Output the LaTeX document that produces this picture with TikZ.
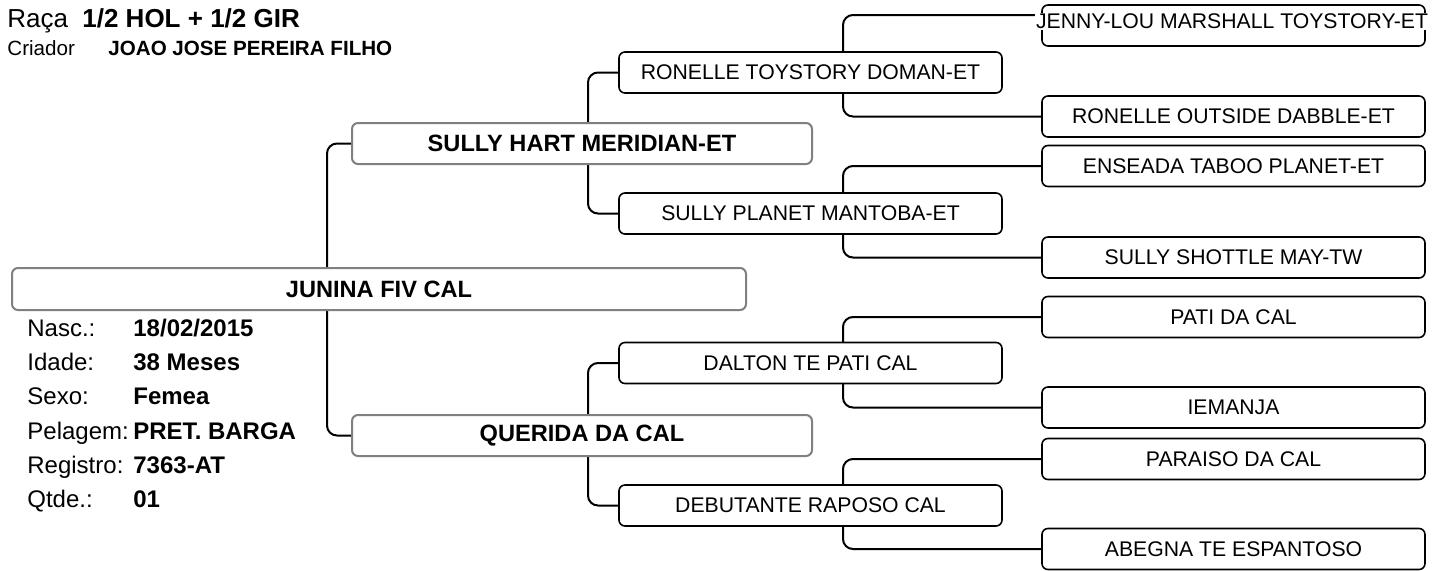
\documentclass[tikz,border=0pt]{standalone}
\usepackage{fontspec}
\setmainfont{Liberation Sans}
\usepackage{xcolor}
\usetikzlibrary{positioning,backgrounds}
\definecolor{boxgray}{RGB}{128,128,128}

\begin{document}
\begin{tikzpicture}[x=0.5pt, y=-0.5pt,
    animal/.style={draw=boxgray, line width=1pt, rounded corners=3pt, fill=white,
                   font=\fontsize{11.8}{14}\selectfont\bfseries, inner sep=0,
                   minimum width=230pt, minimum height=20.5pt},
    ancestor/.style={draw=black, line width=0.8pt, rounded corners=3pt, fill=white,
                     font=\fontsize{10.6}{13}\selectfont, inner sep=0,
                     minimum width=191.5pt, minimum height=20.5pt},
    info/.style={anchor=base west, inner sep=0, font=\fontsize{12}{14}\selectfont},
    infoval/.style={info, font=\fontsize{12}{14}\selectfont\bfseries},
    conn/.style={line width=1pt, rounded corners=5pt}]

    \useasboundingbox (0,0) rectangle (1448,570);

    \node[info, font=\fontsize{13}{15}\selectfont] (raca) at (7,27) {Raça};
    \node[infoval, font=\fontsize{13}{15}\selectfont\bfseries] (racav) at (82,27) {1/2 HOL + 1/2 GIR};
    \node[info, font=\fontsize{10.3}{12}\selectfont] (criador) at (7,55) {Criador};
    \node[infoval, font=\fontsize{10.3}{12}\selectfont\bfseries] (criadorv) at (108,55) {JOAO JOSE PEREIRA FILHO};

    \node[animal, minimum width=367pt, minimum height=21pt] (jun) at (379,289) {JUNINA FIV CAL};
    \foreach \lab/\val [count=\i] in {Nasc.:/{18/02/2015}, Idade:/{38 Meses}, Sexo:/Femea,
                                      Pelagem:/{PRET. BARGA}, Registro:/{7363-AT}, Qtde.:/01} {
        \node[info] (lab\i) at (27,{336.5+34.2*(\i-1)}) {\lab};
        \node[infoval] (val\i) at (133,{336.5+34.2*(\i-1)}) {\val};
    }

    \node[animal] (sully) at (582,143.5) {SULLY HART MERIDIAN-ET};
    \node[animal] (querida) at (582,435.5) {QUERIDA DA CAL};

    \node[ancestor] (ronT) at (810.5,72.5) {RONELLE TOYSTORY DOMAN-ET};
    \node[ancestor] (spm) at (810.5,213.5) {SULLY PLANET MANTOBA-ET};
    \node[ancestor] (dalton) at (810.5,363) {DALTON TE PATI CAL};
    \node[ancestor] (debut) at (810.5,505.5) {DEBUTANTE RAPOSO CAL};

    \node[ancestor] (jenny) at (1233.5,25.5) {};
    \node[font=\fontsize{10.6}{13}\selectfont, fill=white, inner sep=0.5pt] (jennytxt) at (1232,21) {JENNY-LOU MARSHALL TOYSTORY-ET};
    \node[ancestor] (ronO) at (1233.5,116.5) {RONELLE OUTSIDE DABBLE-ET};
    \node[ancestor] (ens) at (1233.5,166) {ENSEADA TABOO PLANET-ET};
    \node[ancestor] (shot) at (1233.5,257.5) {SULLY SHOTTLE MAY-TW};
    \node[ancestor] (pati) at (1233.5,317) {PATI DA CAL};
    \node[ancestor] (iem) at (1233.5,407.5) {IEMANJA};
    \node[ancestor] (para) at (1233.5,459) {PARAISO DA CAL};
    \node[ancestor] (abeg) at (1233.5,549) {ABEGNA TE ESPANTOSO};

    \coordinate (s0) at (327,289);
    \coordinate (s1) at (588,143.5);
    \coordinate (s2) at (588,435.5);
    \coordinate (s3) at (843,72.5);
    \coordinate (s4) at (843,213.5);
    \coordinate (s5) at (843,363);
    \coordinate (s6) at (843,505.5);
    \coordinate (jl) at (jenny.west |- 0,15);

    \begin{scope}[on background layer]
        \draw[conn] (sully.west) -| (s0) |- (querida.west);
        \draw[conn] (ronT.west) -| (s1) |- (spm.west);
        \draw[conn] (dalton.west) -| (s2) |- (debut.west);
        \draw[conn] (jl) -| (s3) |- (ronO.west);
        \draw[conn] (ens.west) -| (s4) |- (shot.west);
        \draw[conn] (pati.west) -| (s5) |- (iem.west);
        \draw[conn] (para.west) -| (s6) |- (abeg.west);
    \end{scope}
\end{tikzpicture}
\end{document}
